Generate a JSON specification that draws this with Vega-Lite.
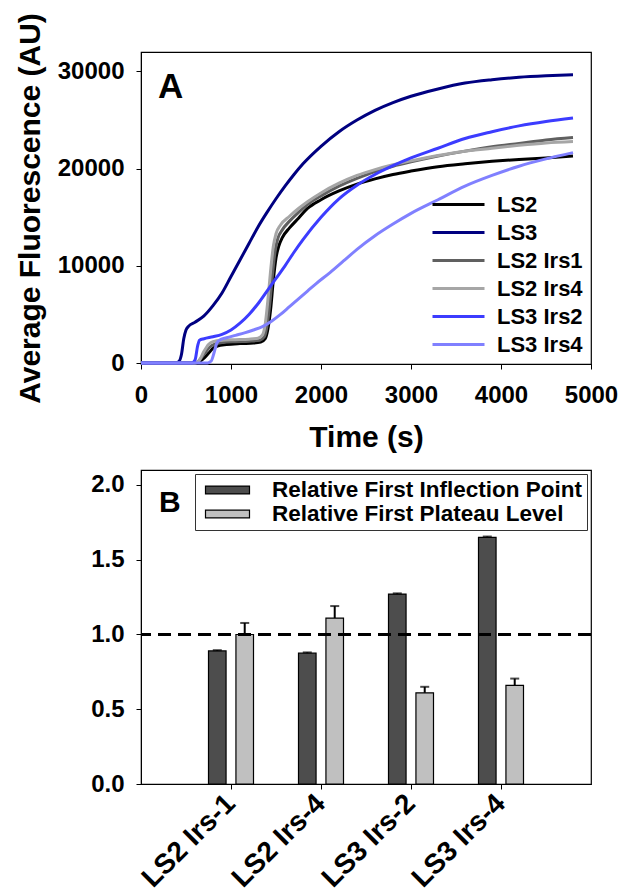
{
  "$schema": "https://vega.github.io/schema/vega-lite/v6.json",
  "padding": {"left": 14, "top": 12, "right": 0, "bottom": 0},
  "spacing": 16,
  "resolve": {"scale": {"color": "independent", "fill": "independent"}, "legend": {"color": "independent", "fill": "independent"}},
  "config": {
    "font": "Liberation Sans",
    "view": {"stroke": "#000", "strokeWidth": 1.2},
    "axis": {
      "grid": false,
      "domainColor": "#000",
      "tickColor": "#000",
      "tickSize": 5,
      "labelColor": "#000",
      "labelFont": "Liberation Sans",
      "labelFontWeight": "bold",
      "labelFontSize": 24,
      "labelFlush": false,
      "labelOverlap": false,
      "titleColor": "#000",
      "titleFont": "Liberation Sans",
      "titleFontWeight": "bold",
      "titleFontSize": 30
    },
    "legend": {"labelFont": "Liberation Sans", "labelColor": "#000", "labelFontWeight": "bold"}
  },
  "vconcat": [
    {
      "width": 450,
      "height": 312,
      "title": {"text": "A", "anchor": "start", "frame": "group", "orient": "top", "fontSize": 35, "fontWeight": "bold", "color": "#000", "offset": 0, "dx": 17, "dy": 92},
      "data": {"values": [
        {"s":"LS2","t":0,"v":0},{"s":"LS2","t":600,"v":0},{"s":"LS2","t":650,"v":150},{"s":"LS2","t":700,"v":500},{"s":"LS2","t":750,"v":1000},{"s":"LS2","t":800,"v":1500},{"s":"LS2","t":850,"v":1750},{"s":"LS2","t":950,"v":1900},{"s":"LS2","t":1100,"v":2000},{"s":"LS2","t":1250,"v":2050},{"s":"LS2","t":1330,"v":2150},{"s":"LS2","t":1380,"v":2500},{"s":"LS2","t":1410,"v":3500},{"s":"LS2","t":1440,"v":5500},{"s":"LS2","t":1470,"v":8500},{"s":"LS2","t":1500,"v":10800},{"s":"LS2","t":1530,"v":12000},{"s":"LS2","t":1570,"v":12900},{"s":"LS2","t":1650,"v":13900},{"s":"LS2","t":1750,"v":14900},{"s":"LS2","t":1850,"v":15900},{"s":"LS2","t":2000,"v":16800},{"s":"LS2","t":2200,"v":17700},{"s":"LS2","t":2400,"v":18400},{"s":"LS2","t":2600,"v":18950},{"s":"LS2","t":2800,"v":19400},{"s":"LS2","t":3000,"v":19750},{"s":"LS2","t":3300,"v":20200},{"s":"LS2","t":3600,"v":20500},{"s":"LS2","t":3900,"v":20750},{"s":"LS2","t":4200,"v":20950},{"s":"LS2","t":4500,"v":21100},{"s":"LS2","t":4800,"v":21300},
        {"s":"LS3","t":0,"v":0},{"s":"LS3","t":380,"v":0},{"s":"LS3","t":420,"v":150},{"s":"LS3","t":450,"v":900},{"s":"LS3","t":475,"v":2500},{"s":"LS3","t":500,"v":3400},{"s":"LS3","t":530,"v":3800},{"s":"LS3","t":600,"v":4200},{"s":"LS3","t":700,"v":4850},{"s":"LS3","t":800,"v":5900},{"s":"LS3","t":900,"v":7200},{"s":"LS3","t":1000,"v":8900},{"s":"LS3","t":1100,"v":10600},{"s":"LS3","t":1200,"v":12300},{"s":"LS3","t":1300,"v":14000},{"s":"LS3","t":1400,"v":15500},{"s":"LS3","t":1500,"v":16900},{"s":"LS3","t":1600,"v":18200},{"s":"LS3","t":1700,"v":19400},{"s":"LS3","t":1800,"v":20500},{"s":"LS3","t":2000,"v":22300},{"s":"LS3","t":2200,"v":23800},{"s":"LS3","t":2400,"v":25000},{"s":"LS3","t":2600,"v":26000},{"s":"LS3","t":2800,"v":26800},{"s":"LS3","t":3000,"v":27450},{"s":"LS3","t":3300,"v":28200},{"s":"LS3","t":3600,"v":28800},{"s":"LS3","t":3900,"v":29150},{"s":"LS3","t":4200,"v":29400},{"s":"LS3","t":4500,"v":29550},{"s":"LS3","t":4800,"v":29650},
        {"s":"LS2 Irs1","t":0,"v":0},{"s":"LS2 Irs1","t":590,"v":0},{"s":"LS2 Irs1","t":640,"v":200},{"s":"LS2 Irs1","t":700,"v":900},{"s":"LS2 Irs1","t":760,"v":1600},{"s":"LS2 Irs1","t":820,"v":1950},{"s":"LS2 Irs1","t":900,"v":2100},{"s":"LS2 Irs1","t":1050,"v":2200},{"s":"LS2 Irs1","t":1200,"v":2250},{"s":"LS2 Irs1","t":1320,"v":2350},{"s":"LS2 Irs1","t":1370,"v":2700},{"s":"LS2 Irs1","t":1400,"v":3800},{"s":"LS2 Irs1","t":1430,"v":6000},{"s":"LS2 Irs1","t":1460,"v":9000},{"s":"LS2 Irs1","t":1490,"v":11500},{"s":"LS2 Irs1","t":1520,"v":12800},{"s":"LS2 Irs1","t":1570,"v":13700},{"s":"LS2 Irs1","t":1650,"v":14600},{"s":"LS2 Irs1","t":1750,"v":15500},{"s":"LS2 Irs1","t":1850,"v":16300},{"s":"LS2 Irs1","t":2000,"v":17200},{"s":"LS2 Irs1","t":2200,"v":18200},{"s":"LS2 Irs1","t":2400,"v":19000},{"s":"LS2 Irs1","t":2600,"v":19700},{"s":"LS2 Irs1","t":2800,"v":20250},{"s":"LS2 Irs1","t":3000,"v":20700},{"s":"LS2 Irs1","t":3300,"v":21300},{"s":"LS2 Irs1","t":3600,"v":21800},{"s":"LS2 Irs1","t":3900,"v":22250},{"s":"LS2 Irs1","t":4200,"v":22600},{"s":"LS2 Irs1","t":4500,"v":22950},{"s":"LS2 Irs1","t":4800,"v":23200},
        {"s":"LS2 Irs4","t":0,"v":0},{"s":"LS2 Irs4","t":600,"v":0},{"s":"LS2 Irs4","t":650,"v":300},{"s":"LS2 Irs4","t":700,"v":1200},{"s":"LS2 Irs4","t":750,"v":1900},{"s":"LS2 Irs4","t":800,"v":2200},{"s":"LS2 Irs4","t":900,"v":2350},{"s":"LS2 Irs4","t":1050,"v":2400},{"s":"LS2 Irs4","t":1200,"v":2450},{"s":"LS2 Irs4","t":1300,"v":2550},{"s":"LS2 Irs4","t":1350,"v":2900},{"s":"LS2 Irs4","t":1380,"v":4000},{"s":"LS2 Irs4","t":1410,"v":6500},{"s":"LS2 Irs4","t":1440,"v":9500},{"s":"LS2 Irs4","t":1470,"v":12000},{"s":"LS2 Irs4","t":1500,"v":13300},{"s":"LS2 Irs4","t":1550,"v":14200},{"s":"LS2 Irs4","t":1650,"v":15100},{"s":"LS2 Irs4","t":1750,"v":15900},{"s":"LS2 Irs4","t":1850,"v":16600},{"s":"LS2 Irs4","t":2000,"v":17500},{"s":"LS2 Irs4","t":2200,"v":18500},{"s":"LS2 Irs4","t":2400,"v":19300},{"s":"LS2 Irs4","t":2600,"v":19900},{"s":"LS2 Irs4","t":2800,"v":20400},{"s":"LS2 Irs4","t":3000,"v":20800},{"s":"LS2 Irs4","t":3300,"v":21350},{"s":"LS2 Irs4","t":3600,"v":21800},{"s":"LS2 Irs4","t":3900,"v":22100},{"s":"LS2 Irs4","t":4200,"v":22400},{"s":"LS2 Irs4","t":4500,"v":22650},{"s":"LS2 Irs4","t":4800,"v":22800},
        {"s":"LS3 Irs2","t":0,"v":0},{"s":"LS3 Irs2","t":560,"v":0},{"s":"LS3 Irs2","t":600,"v":300},{"s":"LS3 Irs2","t":630,"v":1800},{"s":"LS3 Irs2","t":650,"v":2350},{"s":"LS3 Irs2","t":700,"v":2500},{"s":"LS3 Irs2","t":800,"v":2700},{"s":"LS3 Irs2","t":900,"v":2950},{"s":"LS3 Irs2","t":1000,"v":3400},{"s":"LS3 Irs2","t":1100,"v":4100},{"s":"LS3 Irs2","t":1200,"v":5000},{"s":"LS3 Irs2","t":1300,"v":6100},{"s":"LS3 Irs2","t":1400,"v":7400},{"s":"LS3 Irs2","t":1500,"v":8700},{"s":"LS3 Irs2","t":1600,"v":10000},{"s":"LS3 Irs2","t":1700,"v":11400},{"s":"LS3 Irs2","t":1800,"v":12700},{"s":"LS3 Irs2","t":2000,"v":15000},{"s":"LS3 Irs2","t":2200,"v":16900},{"s":"LS3 Irs2","t":2400,"v":18300},{"s":"LS3 Irs2","t":2600,"v":19400},{"s":"LS3 Irs2","t":2800,"v":20300},{"s":"LS3 Irs2","t":3000,"v":21100},{"s":"LS3 Irs2","t":3300,"v":22100},{"s":"LS3 Irs2","t":3600,"v":23100},{"s":"LS3 Irs2","t":3900,"v":23800},{"s":"LS3 Irs2","t":4200,"v":24400},{"s":"LS3 Irs2","t":4500,"v":24850},{"s":"LS3 Irs2","t":4800,"v":25200},
        {"s":"LS3 Irs4","t":0,"v":0},{"s":"LS3 Irs4","t":740,"v":0},{"s":"LS3 Irs4","t":780,"v":200},{"s":"LS3 Irs4","t":810,"v":1000},{"s":"LS3 Irs4","t":840,"v":2000},{"s":"LS3 Irs4","t":870,"v":2350},{"s":"LS3 Irs4","t":950,"v":2600},{"s":"LS3 Irs4","t":1050,"v":2850},{"s":"LS3 Irs4","t":1150,"v":3100},{"s":"LS3 Irs4","t":1250,"v":3400},{"s":"LS3 Irs4","t":1350,"v":3750},{"s":"LS3 Irs4","t":1450,"v":4300},{"s":"LS3 Irs4","t":1550,"v":5000},{"s":"LS3 Irs4","t":1650,"v":5800},{"s":"LS3 Irs4","t":1750,"v":6600},{"s":"LS3 Irs4","t":1850,"v":7400},{"s":"LS3 Irs4","t":1950,"v":8200},{"s":"LS3 Irs4","t":2100,"v":9300},{"s":"LS3 Irs4","t":2250,"v":10500},{"s":"LS3 Irs4","t":2400,"v":11700},{"s":"LS3 Irs4","t":2600,"v":13100},{"s":"LS3 Irs4","t":2800,"v":14300},{"s":"LS3 Irs4","t":3000,"v":15400},{"s":"LS3 Irs4","t":3300,"v":16800},{"s":"LS3 Irs4","t":3600,"v":18200},{"s":"LS3 Irs4","t":3900,"v":19300},{"s":"LS3 Irs4","t":4200,"v":20250},{"s":"LS3 Irs4","t":4500,"v":21000},{"s":"LS3 Irs4","t":4800,"v":21650}
      ]},
      "mark": {"type": "line", "strokeWidth": 3, "interpolate": "monotone"},
      "encoding": {
        "x": {"field": "t", "type": "quantitative", "scale": {"domain": [0, 5000], "nice": false},
              "axis": {"title": "Time (s)", "values": [0, 1000, 2000, 3000, 4000, 5000], "format": "d", "labelPadding": 14, "titlePadding": 15}},
        "y": {"field": "v", "type": "quantitative", "scale": {"domain": [-100, 32000], "nice": false, "zero": false},
              "axis": {"title": "Average Fluorescence (AU)", "values": [0, 10000, 20000, 30000], "format": "d", "labelPadding": 12, "titlePadding": 12}},
        "color": {"field": "s", "type": "nominal",
                  "scale": {"domain": ["LS2", "LS3", "LS2 Irs1", "LS2 Irs4", "LS3 Irs2", "LS3 Irs4"],
                            "range": ["#000000", "#000080", "#606060", "#a6a6a6", "#3c3cff", "#8080ff"]},
                  "legend": {"title": null, "orient": "bottom-right", "offset": 8, "padding": 0, "symbolType": "M-1,0H3", "symbolSize": 676, "symbolStrokeWidth": 3, "labelFontSize": 22, "rowPadding": 2, "labelOffset": 37}}
      }
    },
    {
      "width": 450,
      "height": 314,
      "title": {"text": "B", "anchor": "start", "frame": "group", "orient": "top", "fontSize": 30, "fontWeight": "bold", "color": "#000", "offset": 0, "dx": 18, "dy": 48},
      "data": {"values": [
        {"cat": "LS2 Irs-1", "measure": "Relative First Inflection Point", "value": 0.89, "hi": 0.895},
        {"cat": "LS2 Irs-1", "measure": "Relative First Plateau Level", "value": 1.0, "hi": 1.077},
        {"cat": "LS2 Irs-4", "measure": "Relative First Inflection Point", "value": 0.875, "hi": 0.88},
        {"cat": "LS2 Irs-4", "measure": "Relative First Plateau Level", "value": 1.11, "hi": 1.19},
        {"cat": "LS3 Irs-2", "measure": "Relative First Inflection Point", "value": 1.27, "hi": 1.275},
        {"cat": "LS3 Irs-2", "measure": "Relative First Plateau Level", "value": 0.61, "hi": 0.65},
        {"cat": "LS3 Irs-4", "measure": "Relative First Inflection Point", "value": 1.65, "hi": 1.655},
        {"cat": "LS3 Irs-4", "measure": "Relative First Plateau Level", "value": 0.66, "hi": 0.705}
      ]},
      "encoding": {
        "x": {"field": "cat", "type": "nominal", "scale": {"paddingInner": 0.5, "paddingOuter": 0.75},
              "axis": {"title": null, "labelAngle": -45, "labelAlign": "right", "labelBaseline": "middle", "labelFontSize": 28, "labelPadding": 10}},
        "xOffset": {"field": "measure", "type": "nominal", "scale": {"paddingInner": 0.36, "paddingOuter": 0}}
      },
      "layer": [
        {
          "mark": {"type": "bar", "stroke": "#000", "strokeWidth": 1.2},
          "encoding": {
            "y": {"field": "value", "type": "quantitative", "scale": {"domain": [0, 2.1], "nice": false},
                  "axis": {"title": null, "values": [0, 0.5, 1, 1.5, 2], "format": ".1f", "labelPadding": 12}},
            "fill": {"field": "measure", "type": "nominal",
                     "scale": {"domain": ["Relative First Inflection Point", "Relative First Plateau Level"], "range": ["#4d4d4d", "#c0c0c0"]},
                     "legend": {"title": null, "orient": "top-right", "offset": 4, "fillColor": "#fff", "strokeColor": "#333", "padding": 4,
                                "symbolType": "M-0.5,-0.36H3.5V0.36H-0.5Z", "symbolSize": 484, "symbolStrokeColor": "#000", "symbolStrokeWidth": 1.2,
                                "labelFontSize": 22.5, "labelLimit": 400, "rowPadding": 0, "labelOffset": 49}}
          }
        },
        {
          "mark": {"type": "rule", "stroke": "#000", "strokeWidth": 2},
          "encoding": {"y": {"field": "value", "type": "quantitative"}, "y2": {"field": "hi"}}
        },
        {
          "mark": {"type": "tick", "color": "#000", "size": 9, "thickness": 2},
          "encoding": {"y": {"field": "hi", "type": "quantitative"}}
        },
        {
          "mark": {"type": "rule", "stroke": "#000", "strokeWidth": 3, "strokeDash": [13, 7]},
          "encoding": {"y": {"datum": 1}, "x": null, "xOffset": null}
        }
      ]
    }
  ]
}
